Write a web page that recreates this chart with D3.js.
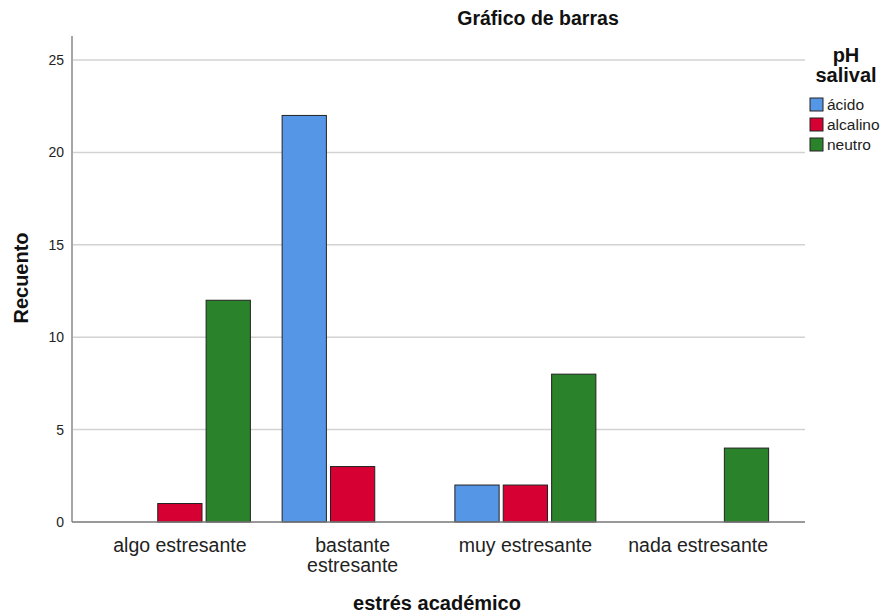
<!DOCTYPE html>
<html><head><meta charset="utf-8">
<script src="https://cdn.jsdelivr.net/npm/d3@7/dist/d3.min.js"></script>
<style>body{margin:0;background:#fff}svg{font-family:Arial,"Liberation Sans",sans-serif}</style>
</head><body><svg id="c" width="888" height="615"></svg>
<script>
const categories = ["algo estresante", "bastante estresante", "muy estresante", "nada estresante"];
const categoryLines = [["algo estresante"], ["bastante", "estresante"], ["muy estresante"], ["nada estresante"]];
const seriesNames = ["ácido", "alcalino", "neutro"];
const acido = [0, 22, 2, 0];
const alcalino = [1, 3, 2, 0];
const neutro = [12, 0, 8, 4];
const yTicks = [0, 5, 10, 15, 20, 25];
const colors = ["#5596e6", "#d60032", "#2a832a"];

const svg = d3.select("#c");
const series = [acido, alcalino, neutro];
const y = d3.scaleLinear().domain([0, 25]).range([522, 60]);
const x = d3.scaleBand().domain(categories).range([93.5, 784.5]);
const xs = d3.scaleBand().domain(seriesNames).range([-70.5, 70.5]).paddingInner(0.085);

// gridlines
svg.append("g").selectAll("line").data(yTicks.filter(d => d > 0)).join("line")
  .attr("x1", 73).attr("x2", 805).attr("y1", d => y(d)).attr("y2", d => y(d))
  .attr("stroke", "#d2d2d2").attr("stroke-width", 1.5);

// bars
const rows = [];
categories.forEach((c, i) => seriesNames.forEach((s, j) => {
  if (series[j][i] > 0) rows.push({c, s, v: series[j][i], j});
}));
svg.append("g").selectAll("rect").data(rows).join("rect")
  .attr("x", d => x(d.c) + x.bandwidth() / 2 + xs(d.s))
  .attr("y", d => y(d.v))
  .attr("width", xs.bandwidth())
  .attr("height", d => y(0) - y(d.v))
  .attr("fill", d => colors[d.j])
  .attr("stroke", "#222").attr("stroke-width", 1);

// y axis
const ya = svg.append("g").attr("transform", "translate(72,0)")
  .call(d3.axisLeft(y).tickValues(yTicks).tickSize(0).tickPadding(8));
ya.select(".domain").remove();
ya.selectAll("text").attr("font-size", 14).attr("fill", "#222").attr("font-family", "Arial, 'Liberation Sans', sans-serif");
svg.append("line").attr("x1", 72).attr("x2", 72).attr("y1", 36).attr("y2", 522).attr("stroke", "#888").attr("stroke-width", 1.5);
svg.append("line").attr("x1", 72).attr("x2", 805).attr("y1", 522).attr("y2", 522).attr("stroke", "#777").attr("stroke-width", 1.5);

// x axis labels
const xa = svg.append("g");
categories.forEach((c, i) => {
  const cx = x(c) + x.bandwidth() / 2;
  const t = xa.append("text").attr("x", cx).attr("y", 552)
    .attr("text-anchor", "middle").attr("font-size", 19.5).attr("fill", "#222");
  categoryLines[i].forEach((ln, k) => t.append("tspan").attr("x", cx).attr("dy", k === 0 ? 0 : 20).text(ln));
});

// titles
svg.append("text").attr("x", 538).attr("y", 25).attr("text-anchor", "middle")
  .attr("font-size", 19.5).attr("font-weight", "bold").attr("fill", "#111").text("Gráfico de barras");
svg.append("text").attr("transform", "translate(28,278) rotate(-90)").attr("text-anchor", "middle")
  .attr("font-size", 20).attr("font-weight", "bold").attr("fill", "#111").text("Recuento");
svg.append("text").attr("x", 437).attr("y", 610).attr("text-anchor", "middle")
  .attr("font-size", 20).attr("font-weight", "bold").attr("fill", "#111").text("estrés académico");

// legend
svg.append("text").attr("x", 846).attr("y", 62).attr("text-anchor", "middle")
  .attr("font-size", 20).attr("font-weight", "bold").attr("fill", "#111").text("pH");
svg.append("text").attr("x", 846).attr("y", 82).attr("text-anchor", "middle")
  .attr("font-size", 20).attr("font-weight", "bold").attr("fill", "#111").text("salival");
const lg = svg.append("g").selectAll("g").data(seriesNames).join("g")
  .attr("transform", (d, i) => `translate(810,${98 + i * 20})`);
lg.append("rect").attr("width", 13).attr("height", 13).attr("fill", (d, i) => colors[i])
  .attr("stroke", "#222").attr("stroke-width", 1);
lg.append("text").attr("x", 17).attr("y", 12).attr("font-size", 15.5).attr("fill", "#222").text(d => d);
</script></body></html>
